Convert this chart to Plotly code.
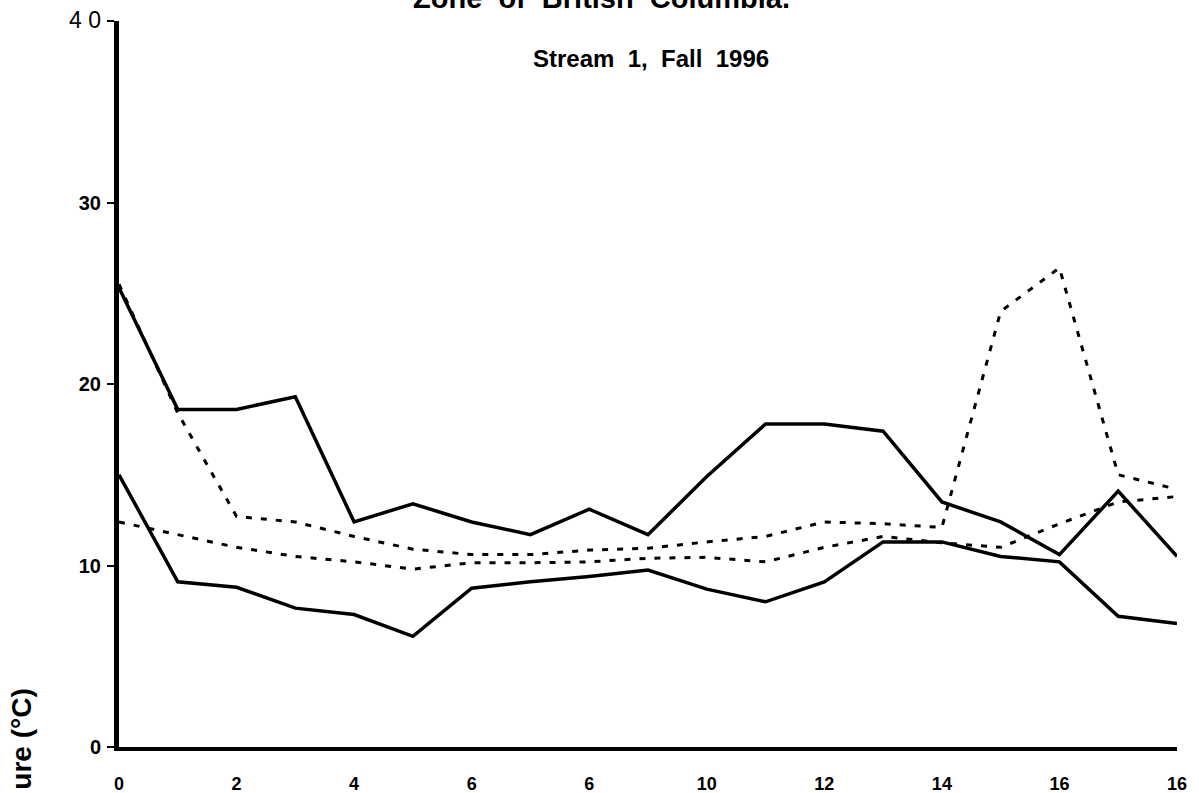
import plotly.graph_objects as go

days = list(range(19))
solid_upper = [25.3, 18.6, 18.6, 19.3, 12.4, 13.4, 12.4, 11.7, 13.1, 11.7, 14.9, 17.8, 17.8, 17.4, 13.5, 12.4, 10.6, 14.1, 10.5]
solid_lower = [15.0, 9.1, 8.8, 7.65, 7.3, 6.1, 8.75, 9.1, 9.4, 9.75, 8.7, 8.0, 9.1, 11.3, 11.3, 10.5, 10.2, 7.2, 6.8]
dotted_upper = [25.5, 18.4, 12.7, 12.4, 11.6, 10.9, 10.6, 10.6, 10.85, 10.95, 11.3, 11.6, 12.4, 12.3, 12.1, 24.0, 26.4, 15.0, 14.2]
dotted_lower = [12.4, 11.7, 11.0, 10.5, 10.2, 9.8, 10.15, 10.15, 10.2, 10.4, 10.45, 10.2, 11.0, 11.6, 11.25, 11.0, 12.3, 13.5, 13.8]

x_tickvals = [0, 2, 4, 6, 8, 10, 12, 14, 16, 18]
x_ticktext = ["0", "2", "4", "6", "6", "10", "12", "14", "16", "16"]
y_tickvals = [0, 10, 20, 30, 40]
y_ticktext = ["0", "10", "20", "30",
              "<span style=\"font-size:23px;font-weight:normal\">4 0</span>"]

title_text = "Zone\u00a0\u00a0of\u00a0\u00a0British\u00a0\u00a0Columbia."
subtitle_text = "Stream\u00a0\u00a01,\u00a0\u00a0Fall\u00a0\u00a01996"
ylabel_text = "ure\u00a0(°C)"

ARIAL = "'Liberation Sans', Arial, sans-serif"

fig = go.Figure()
solid_style = dict(color="black", width=3.5)
dot_style = dict(color="black", width=3, dash="6px,9px")

fig.add_trace(go.Scatter(x=days, y=solid_upper, mode="lines", line=solid_style, showlegend=False))
fig.add_trace(go.Scatter(x=days, y=solid_lower, mode="lines", line=solid_style, showlegend=False))
fig.add_trace(go.Scatter(x=days, y=dotted_upper, mode="lines", line=dot_style, showlegend=False))
fig.add_trace(go.Scatter(x=days, y=dotted_lower, mode="lines", line=dot_style, showlegend=False))

fig.update_layout(
    width=1199, height=793,
    margin=dict(l=119, r=22, t=21, b=46),
    paper_bgcolor="white", plot_bgcolor="white",
    showlegend=False,
)
fig.update_xaxes(
    range=[0, 18], tickvals=x_tickvals, ticktext=x_ticktext,
    showgrid=False, zeroline=False, automargin=False,
    showline=True, linecolor="black", linewidth=4,
    ticks="", ticklabelstandoff=17,
    tickfont=dict(family=ARIAL, size=18, color="black", weight="bold"),
)
fig.update_yaxes(
    range=[0, 40], tickvals=y_tickvals, ticktext=y_ticktext,
    showgrid=False, zeroline=False, automargin=False,
    showline=True, linecolor="black", linewidth=5,
    ticks="outside", ticklen=7, tickwidth=1.5, tickcolor="black",
    ticklabelstandoff=2,
    tickfont=dict(family=ARIAL, size=20, color="black", weight="bold"),
)

fig.add_annotation(text=title_text, xref="paper", yref="paper", x=0.456, y=1.031,
                   xanchor="center", yanchor="middle", showarrow=False,
                   font=dict(family=ARIAL, size=29, color="black", weight="bold"))
fig.add_annotation(text=subtitle_text, xref="paper", yref="paper", x=0.503, y=0.948,
                   xanchor="center", yanchor="middle", showarrow=False,
                   font=dict(family=ARIAL, size=24, color="black", weight="bold"))
fig.add_annotation(text=ylabel_text, xref="paper", yref="paper", x=-0.0916, y=0.0825,
                   xanchor="center", yanchor="top", textangle=-90, showarrow=False,
                   font=dict(family=ARIAL, size=28, color="black", weight="bold"))

fig.write_html("out.html",
               config={"displayModeBar": False},
               post_script="document.body.style.margin='0';document.body.style.padding='0';")
